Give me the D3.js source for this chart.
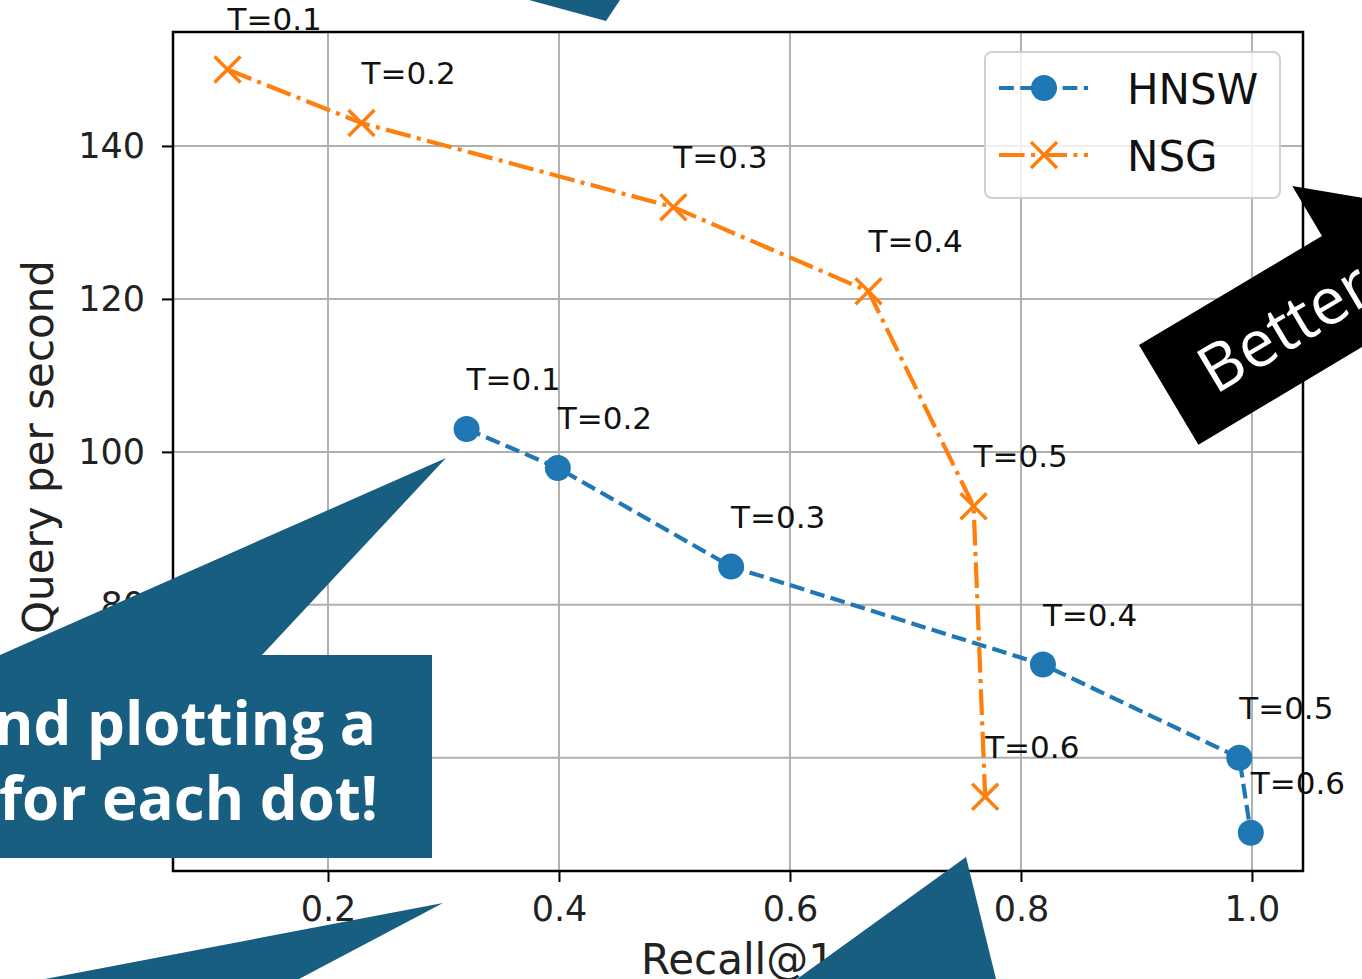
<!DOCTYPE html>
<html>
<head>
<meta charset="utf-8">
<script src="https://cdn.jsdelivr.net/npm/d3@7"></script>
<style>
  html, body { margin: 0; padding: 0; background: #ffffff; }
  svg { display: block; }
</style>
</head>
<body>
<div id="chart"></div>
<script>
// ---------- data ----------
const thresholds = ["T=0.1", "T=0.2", "T=0.3", "T=0.4", "T=0.5", "T=0.6"];
const hnswRecall = [0.320, 0.399, 0.549, 0.819, 0.989, 0.999];
const hnswQps    = [103.0, 97.9, 85.0, 72.2, 60.0, 50.2];
const nsgRecall  = [0.113, 0.229, 0.499, 0.668, 0.759, 0.769];
const nsgQps     = [150.0, 143.0, 132.0, 121.0, 92.9, 54.9];
const xTicks = [0.2, 0.4, 0.6, 0.8, 1.0];
const yTicks = [60, 80, 100, 120, 140];
const xDomain = [0.0658, 1.0442];
const yDomain = [45.2, 154.9];
const seriesNames = ["HNSW", "NSG"];
const xLabel = "Recall@1";
const yLabel = "Query per second";
const calloutLines = ["nd plotting a", "for each dot!"];
const arrowText = "Better";

// ---------- layout ----------
const W = 1362, H = 979;
const plot = { left: 173, right: 1303, top: 32, bottom: 871 };
const BLUE = "#1f77b4", ORANGE = "#ff7f0e", TEAL = "#185e80";
const FONT = "'DejaVu Sans', sans-serif";

const svg = d3.select("#chart").append("svg")
  .attr("width", W).attr("height", H)
  .style("background", "#fff");

const x = d3.scaleLinear().domain(xDomain).range([plot.left, plot.right]);
const y = d3.scaleLinear().domain(yDomain).range([plot.bottom, plot.top]);

// grid
const grid = svg.append("g");
grid.selectAll(".gx").data(xTicks).join("line")
  .attr("x1", d => x(d)).attr("x2", d => x(d))
  .attr("y1", plot.top).attr("y2", plot.bottom)
  .attr("stroke", "#b0b0b0").attr("stroke-width", 2);
grid.selectAll(".gy").data(yTicks).join("line")
  .attr("y1", d => y(d)).attr("y2", d => y(d))
  .attr("x1", plot.left).attr("x2", plot.right)
  .attr("stroke", "#b0b0b0").attr("stroke-width", 2);

// series lines
const hnsw = hnswRecall.map((r, i) => ({ r, q: hnswQps[i], t: thresholds[i] }));
const nsg = nsgRecall.map((r, i) => ({ r, q: nsgQps[i], t: thresholds[i] }));
const line = d3.line().x(d => x(d.r)).y(d => y(d.q));

svg.append("path").datum(hnsw).attr("d", line)
  .attr("fill", "none").attr("stroke", BLUE).attr("stroke-width", 4.2)
  .attr("stroke-dasharray", "14.8,6.4");
svg.append("path").datum(nsg).attr("d", line)
  .attr("fill", "none").attr("stroke", ORANGE).attr("stroke-width", 4.2)
  .attr("stroke-dasharray", "25.6,6.4,4,6.4");

function xMarker(g, cx, cy, s) {
  g.append("path")
    .attr("d", `M${cx - s},${cy - s}L${cx + s},${cy + s}M${cx - s},${cy + s}L${cx + s},${cy - s}`)
    .attr("stroke", ORANGE).attr("stroke-width", 3.5).attr("fill", "none");
}

svg.append("g").selectAll("circle").data(hnsw).join("circle")
  .attr("cx", d => x(d.r)).attr("cy", d => y(d.q)).attr("r", 13).attr("fill", BLUE);
const nsgG = svg.append("g");
nsg.forEach(d => xMarker(nsgG, x(d.r), y(d.q), 13));

// spines
svg.append("rect")
  .attr("x", plot.left).attr("y", plot.top)
  .attr("width", plot.right - plot.left).attr("height", plot.bottom - plot.top)
  .attr("fill", "none").attr("stroke", "#000").attr("stroke-width", 2.5);

// axes
const xAxis = svg.append("g").attr("transform", `translate(0,${plot.bottom})`)
  .call(d3.axisBottom(x).tickValues(xTicks).tickFormat(d3.format(".1f")).tickSize(11).tickPadding(14));
const yAxis = svg.append("g").attr("transform", `translate(${plot.left},0)`)
  .call(d3.axisLeft(y).tickValues(yTicks).tickFormat(d3.format("d")).tickSize(11).tickPadding(17));
[xAxis, yAxis].forEach(a => {
  a.select(".domain").remove();
  a.selectAll(".tick line").attr("stroke", "#000").attr("stroke-width", 2);
  a.selectAll(".tick text").attr("font-family", FONT).attr("font-size", 35).attr("fill", "#222");
});

// axis labels
svg.append("text").attr("x", (plot.left + plot.right) / 2).attr("y", 974)
  .attr("text-anchor", "middle").attr("font-family", FONT).attr("font-size", 42)
  .attr("fill", "#222").text(xLabel);
svg.append("text").attr("transform", `translate(53,447) rotate(-90)`)
  .attr("text-anchor", "middle").attr("font-family", FONT).attr("font-size", 42)
  .attr("fill", "#222").text(yLabel);

// annotations
const ann = svg.append("g").attr("font-family", FONT).attr("font-size", 31).attr("fill", "#111");
hnsw.concat(nsg).forEach(d => {
  ann.append("text").attr("x", x(d.r)).attr("y", y(d.q) - 39).text(d.t);
});

// legend
const lg = svg.append("g");
lg.append("rect").attr("x", 985).attr("y", 52).attr("width", 295).attr("height", 146)
  .attr("rx", 7).attr("fill", "#fff").attr("fill-opacity", 0.8)
  .attr("stroke", "#d0d0d0").attr("stroke-width", 2);
const rowY = [88, 155];
lg.append("line").attr("x1", 999).attr("x2", 1088).attr("y1", rowY[0]).attr("y2", rowY[0])
  .attr("stroke", BLUE).attr("stroke-width", 4.2).attr("stroke-dasharray", "14.8,6.4");
lg.append("circle").attr("cx", 1044).attr("cy", rowY[0]).attr("r", 13).attr("fill", BLUE);
lg.append("line").attr("x1", 999).attr("x2", 1088).attr("y1", rowY[1]).attr("y2", rowY[1])
  .attr("stroke", ORANGE).attr("stroke-width", 4.2).attr("stroke-dasharray", "25.6,6.4,4,6.4");
xMarker(lg, 1044, rowY[1], 13);
seriesNames.forEach((n, i) => {
  lg.append("text").attr("x", 1127).attr("y", rowY[i] + 16)
    .attr("font-family", FONT).attr("font-size", 42).attr("fill", "#111").text(n);
});

// ---------- overlays ----------
const ov = svg.append("g");
ov.append("polygon").attr("points", "529,0 620,0 606,21").attr("fill", TEAL);
ov.append("polygon")
  .attr("points", "0,655 446,458 262,655 432,655 432,858 0,858").attr("fill", TEAL);
ov.append("polygon").attr("points", "443,903 299,979 45,979").attr("fill", TEAL);
ov.append("polygon").attr("points", "966,857 797,979 996,979").attr("fill", TEAL);

const co = ov.append("g").attr("font-family", "'Open Sans', 'Noto Sans', sans-serif")
  .attr("font-weight", 700).attr("font-size", 60).attr("fill", "#fff").attr("text-anchor", "end");
co.append("text").attr("x", 376).attr("y", 745).text(calloutLines[0]);
co.append("text").attr("x", 378).attr("y", 820).text(calloutLines[1]);

// black "Better" arrow
const ar = ov.append("g").attr("transform", "translate(1139,345) rotate(-30.8)");
ar.append("polygon")
  .attr("points", "0,0 213,0 213,-58 350,58 213,174 213,116 0,116")
  .attr("fill", "#000");
ar.append("text").attr("x", 40).attr("y", 82)
  .attr("font-family", "'Open Sans', 'Noto Sans', sans-serif").attr("font-size", 65)
  .attr("fill", "#fff").text(arrowText);
</script>
</body>
</html>
